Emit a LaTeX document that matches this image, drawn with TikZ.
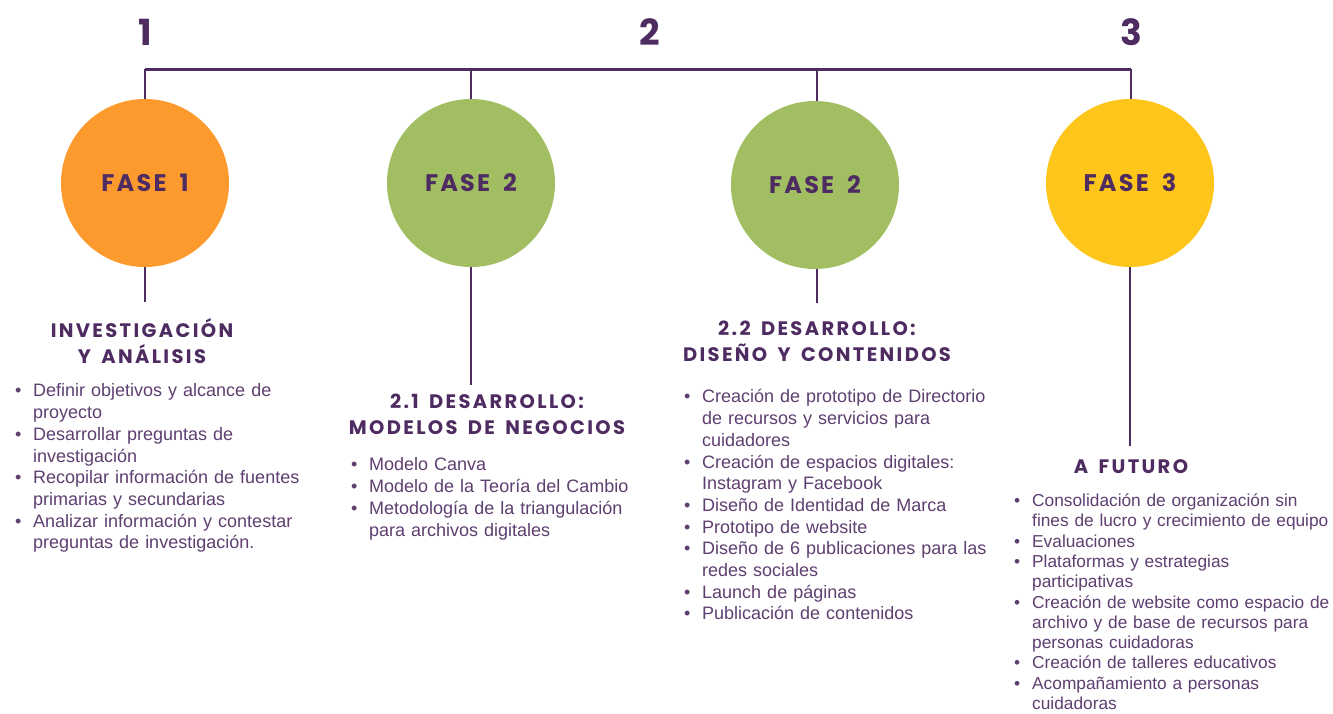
\documentclass[tikz,border=0pt]{standalone}
\usepackage{fontspec}
\setmainfont{Liberation Sans}
\newfontfamily\headfont[LetterSpace=12,WordSpace=1.6]{Poppins}
\newfontfamily\circfont[LetterSpace=9,WordSpace=1.8]{Poppins}
\newfontfamily\numfont{Poppins}
\definecolor{dpurple}{HTML}{4E2C61}
\definecolor{tpurple}{HTML}{5E3F70}
\definecolor{orangeC}{HTML}{FD9A2E}
\definecolor{greenC}{HTML}{A1BE63}
\definecolor{yellowC}{HTML}{FEC51B}
\newcommand{\bitem}[1]{\par\noindent\hangindent=18pt\hangafter=1\makebox[18pt][l]{\textbullet}#1\par}
\tikzset{
  num/.style={text=dpurple, font=\numfont\bfseries\fontsize{36}{36}\selectfont, inner sep=0},
  phase/.style={circle, minimum size=168pt, inner sep=0, text=dpurple, font=\circfont\bfseries\fontsize{24}{24}\selectfont},
  topline/.style={draw=dpurple, line width=3pt},
  drop/.style={draw=dpurple, line width=2pt},
  head/.style={text=dpurple, align=center, inner sep=0, font=\headfont\bfseries\fontsize{19.5}{26}\selectfont},
  blist/.style={anchor=north west, inner sep=0, text width=340pt, text=tpurple, font=\raggedright\fontsize{18}{21.7}\selectfont},
}
\begin{document}
\begin{tikzpicture}[x=1pt,y=-1pt]
\useasboundingbox[fill=white] (0,0) rectangle (1333,713);
% numbers
\node[num] (n1) at (145,32) {1};
\node[num] (n2) at (650,32) {2};
\node[num] (n3) at (1131,32) {3};
% top line coordinates
\coordinate (t1) at (145,69);
\coordinate (t2) at (471,69);
\coordinate (t3) at (817,69);
\coordinate (t4) at (1131,69);
% circles
\node[phase, fill=orangeC] (c1) at (145,183) {FASE 1};
\node[phase, fill=greenC] (c2) at (471,183) {FASE 2};
\node[phase, fill=greenC] (c3) at (815,185) {FASE 2};
\node[phase, fill=yellowC] (c4) at (1130,183) {FASE 3};
\draw[topline] (t1) -- (t4);
\draw[drop] (t1) -- (c1.north);
\draw[drop] (t2) -- (c2.north);
\draw[drop] (t3) -- (t3 |- c3.north);
\draw[drop] (t4) -- (t4 |- c4.north);
% lower drops
\coordinate (e1) at (145,302);
\coordinate (e2) at (471,385);
\coordinate (e3) at (817,303);
\coordinate (e4) at (1130,446);
\draw[drop] (c1.south) -- (e1);
\draw[drop] (c2.south) -- (e2);
\draw[drop] (e3 |- c3.south) -- (e3);
\draw[drop] (c4.south) -- (e4);
% headings
\node[head] (h1) at (142,341) {INVESTIGACIÓN\\Y ANÁLISIS};
\node[head] (h2) at (487,414) {2.1 DESARROLLO:\\MODELOS DE NEGOCIOS};
\node[head] (h3) at (817,341.5) {2.2 DESARROLLO:\\DISEÑO Y CONTENIDOS};
\node[head] (h4) at (1131,467) {A FUTURO};
% lists
\node[blist] (l1) at (15,375) {%
\bitem{Definir objetivos y alcance de\newline proyecto}
\bitem{Desarrollar preguntas de\newline investigación}
\bitem{Recopilar información de fuentes\newline primarias y secundarias}
\bitem{Analizar información y contestar\newline preguntas de investigación.}};
\node[blist] (l2) at (351,449) {%
\bitem{Modelo Canva}
\bitem{Modelo de la Teoría del Cambio}
\bitem{Metodología de la triangulación\newline para archivos digitales}};
\node[blist] (l3) at (684,381) {%
\bitem{Creación de prototipo de Directorio\newline de recursos y servicios para\newline cuidadores}
\bitem{Creación de espacios digitales:\newline Instagram y Facebook}
\bitem{Diseño de Identidad de Marca}
\bitem{Prototipo de website}
\bitem{Diseño de 6 publicaciones para las\newline redes sociales}
\bitem{Launch de páginas}
\bitem{Publicación de contenidos}};
\node[blist, font=\raggedright\fontsize{17.3}{20.3}\selectfont] (l4) at (1014,486) {%
\bitem{Consolidación de organización sin\newline fines de lucro y crecimiento de equipo}
\bitem{Evaluaciones}
\bitem{Plataformas y estrategias\newline participativas}
\bitem{Creación de website como espacio de\newline archivo y de base de recursos para\newline personas cuidadoras}
\bitem{Creación de talleres educativos}
\bitem{Acompañamiento a personas\newline cuidadoras}};
\end{tikzpicture}
\end{document}
